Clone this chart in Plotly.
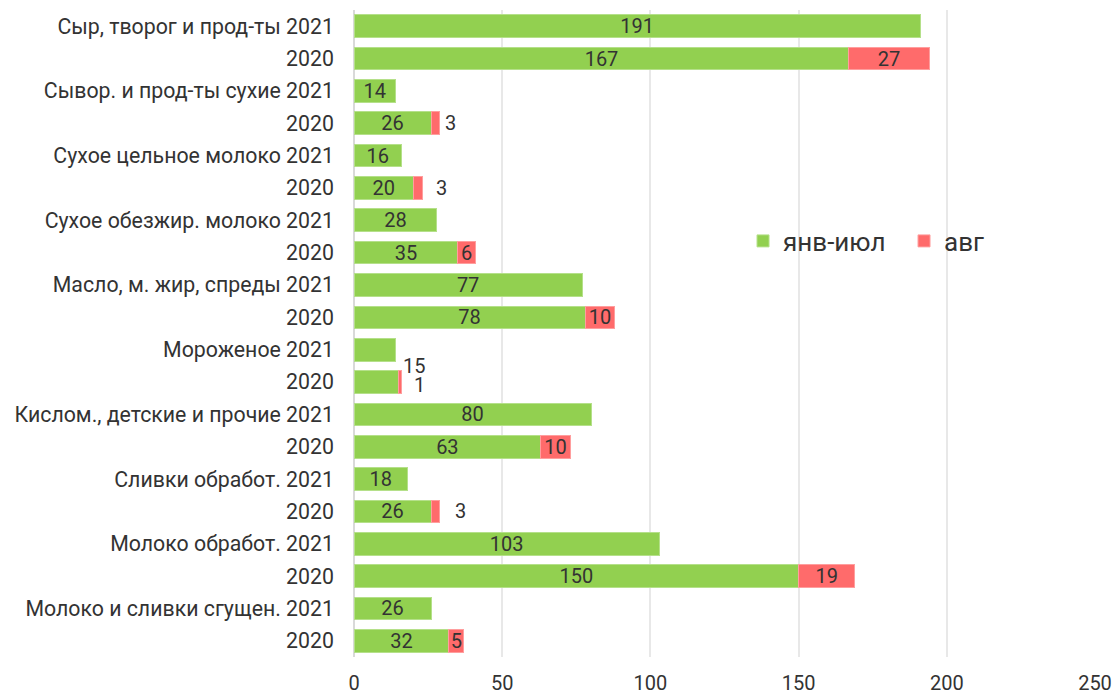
import plotly.graph_objects as go

row_labels = [
    "Сыр, творог и прод-ты 2021", "2020",
    "Сывор. и прод-ты сухие 2021", "2020",
    "Сухое цельное молоко 2021", "2020",
    "Сухое обезжир. молоко 2021", "2020",
    "Масло, м. жир, спреды 2021", "2020",
    "Мороженое 2021", "2020",
    "Кислом., детские и прочие 2021", "2020",
    "Сливки обработ. 2021", "2020",
    "Молоко обработ. 2021", "2020",
    "Молоко и сливки сгущен. 2021", "2020",
]
jan_jul = [191, 167, 14, 26, 16, 20, 28, 35, 77, 78, 14, 15, 80, 63, 18, 26, 103, 150, 26, 32]
aug = [0, 27, 0, 3, 0, 3, 0, 6, 0, 10, 0, 1, 0, 10, 0, 3, 0, 19, 0, 5]
jan_show = [True, True, True, True, True, True, True, True, True, True, False, False,
            True, True, True, True, True, True, True, True]
aug_inside = [False, True, False, False, False, False, False, True, False, True, False, False,
              False, True, False, False, False, True, False, True]
x_ticks = [0, 50, 100, 150, 200, 250]

GREEN = "#92D050"
RED = "#FF6B6B"
TXT = "#333333"
FONT = "Roboto"

ypos = list(range(len(row_labels)))

fig = go.Figure()
fig.add_trace(go.Bar(
    y=ypos, x=jan_jul, orientation="h", name="янв-июл",
    marker=dict(color=GREEN, line=dict(width=1, color="#B5E08A")),
    text=[str(v) if s else "" for v, s in zip(jan_jul, jan_show)],
    textposition="inside", insidetextanchor="middle", textangle=0,
    constraintext="none",
    textfont=dict(family=FONT, size=20, color=TXT),
    hoverinfo="x",
))
fig.add_trace(go.Bar(
    y=ypos, x=[v if v else None for v in aug], orientation="h", name="авг",
    marker=dict(color=RED, line=dict(width=1, color="#FF9E9E")),
    text=[str(v) if s else "" for v, s in zip(aug, aug_inside)],
    textposition="inside", insidetextanchor="middle", textangle=0,
    constraintext="none",
    textfont=dict(family=FONT, size=20, color=TXT),
    hoverinfo="x",
))

# outside labels for small values
ann = []
xshifts = {3: 3, 5: 12, 11: 11, 15: 13}
for i in ypos:
    if aug[i] > 0 and not aug_inside[i]:
        tot = jan_jul[i] + aug[i]
        ann.append(dict(x=tot, y=i, text=str(aug[i]), showarrow=False,
                        xanchor="left", xshift=xshifts.get(i, 8),
                        yshift=(-3 if i == 11 else 0),
                        font=dict(family=FONT, size=20, color=TXT)))
    if not jan_show[i] and aug[i] > 0:
        ann.append(dict(x=jan_jul[i] + aug[i], y=i, text=str(jan_jul[i]), showarrow=False,
                        xanchor="left", xshift=0, yshift=16,
                        font=dict(family=FONT, size=20, color=TXT)))

fig.update_layout(
    width=1115, height=694,
    barmode="stack", bargap=0.3,
    plot_bgcolor="white", paper_bgcolor="white",
    margin=dict(l=354, r=20, t=10, b=37),
    font=dict(family=FONT, size=20, color=TXT),
    annotations=ann,
    legend=dict(orientation="h", x=0.525, y=0.643, xanchor="left", yanchor="middle",
                font=dict(family=FONT, size=26, color=TXT), bgcolor="rgba(0,0,0,0)",
                traceorder="normal", itemwidth=30, entrywidth=116, entrywidthmode="pixels"),
    showlegend=True,
)
fig.update_xaxes(range=[0, 250], tickvals=x_ticks, ticktext=[str(t) for t in x_ticks],
                 showgrid=True, gridcolor="#E8E8E8", gridwidth=1.5,
                 zeroline=True, zerolinecolor="#D9D9D9", zerolinewidth=2,
                 showline=False, ticks="", ticklabelstandoff=12, automargin=False,
                 tickfont=dict(family=FONT, size=20, color=TXT))
fig.update_yaxes(tickvals=ypos, ticktext=row_labels, range=[len(ypos) - 0.5, -0.5],
                 showgrid=False, zeroline=False, showline=False, ticks="",
                 ticklabelstandoff=19, automargin=False,
                 tickfont=dict(family=FONT, size=21.3, color=TXT))

fig.write_html("out.html", config={"displayModeBar": False},
               post_script="document.body.style.margin='0';document.body.style.overflow='hidden';")
